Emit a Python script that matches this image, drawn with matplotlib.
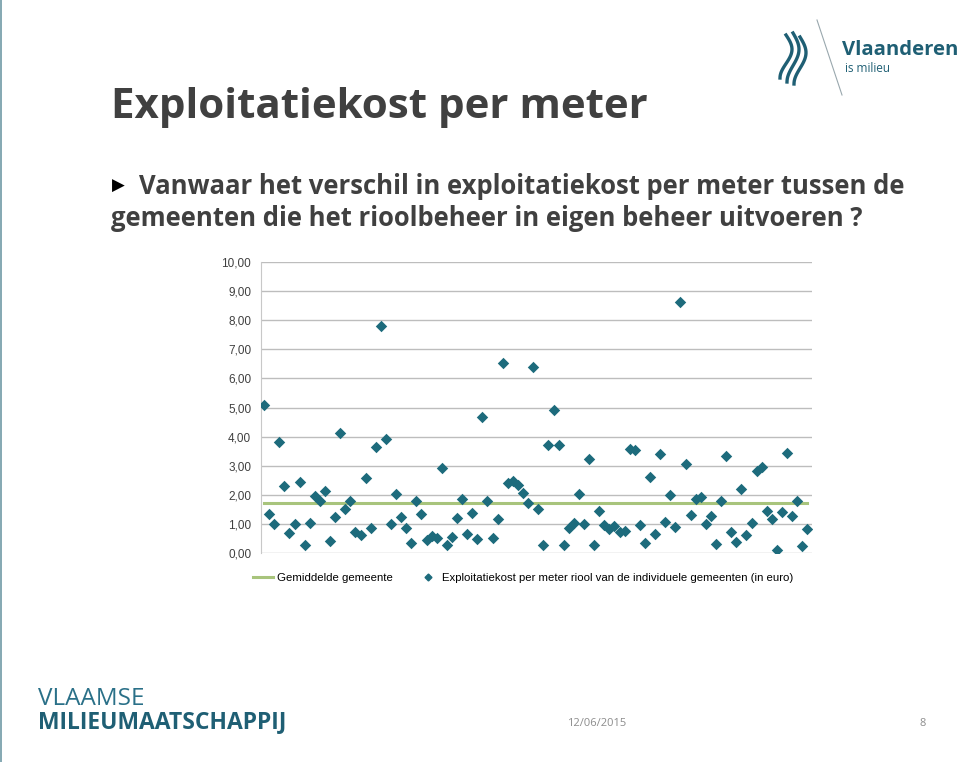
import matplotlib
matplotlib.use('Agg')
import matplotlib.pyplot as plt
from matplotlib.lines import Line2D
import numpy as np

# Exploitatiekost per meter riool per gemeente (euro)
kost = [5.10, 1.34, 1.00, 3.80, 2.30, 0.69, 1.00, 2.44, 0.27, 1.04,
        1.96, 1.80, 2.13, 0.41, 1.24, 4.12, 1.51, 1.80, 0.72, 0.62,
        2.58, 0.86, 3.64, 7.81, 3.92, 1.00, 2.03, 1.25, 0.86, 0.34,
        1.78, 1.34, 0.45, 0.60, 0.50, 2.92, 0.29, 0.56, 1.20, 1.85,
        0.65, 1.37, 0.48, 4.67, 1.78, 0.53, 1.18, 6.53, 2.40, 2.48,
        2.33, 2.06, 1.72, 6.39, 1.52, 0.27, 3.71, 4.91, 3.71, 0.27,
        0.86, 1.03, 2.03, 1.00, 3.23, 0.27, 1.45, 0.96, 0.82, 0.93,
        0.72, 0.76, 3.57, 3.54, 0.96, 0.34, 2.61, 0.65, 3.41, 1.06,
        1.99, 0.89, 8.62, 3.07, 1.30, 1.85, 1.92, 1.00, 1.28, 0.32,
        1.78, 3.33, 0.72, 0.37, 2.21, 0.62, 1.03, 2.82, 2.97, 1.45,
        1.17, 0.10, 1.42, 3.44, 1.28, 1.80, 0.25, 0.82]
gemiddelde = 1.72
yticks = np.arange(0, 11, 1)
yticklabels = ['%d,00' % v for v in yticks]

W, H = 960, 762
fig = plt.figure(figsize=(W / 100, H / 100), dpi=100)
fig.patch.set_facecolor('white')

def px(x, y):
    return x / W, 1 - y / H

grijs = '#404040'
teal = '#1d6b7c'
logo = '#1f5f74'
fnt = 'Open Sans'

# titel + vraag
fig.text(*px(111, 107), 'Exploitatiekost per meter', fontsize=30.3, fontweight='bold',
         color=grijs, family=fnt, va='center', ha='left')
fig.text(*px(118, 186), '\u25B6', fontsize=12, color='black', family='DejaVu Sans',
         va='center', ha='center')
fig.text(*px(139, 186), 'Vanwaar het verschil in exploitatiekost per meter tussen de',
         fontsize=18.45, fontweight='bold', color=grijs, family=fnt, va='center', ha='left')
fig.text(*px(111, 219), 'gemeenten die het rioolbeheer in eigen beheer uitvoeren ?',
         fontsize=18.45, fontweight='bold', color=grijs, family=fnt, va='center', ha='left')

# grafiek
ax = fig.add_axes([261 / W, 1 - 553 / H, (812 - 261) / W, (553 - 262) / H])
x = np.arange(len(kost))
ax.plot([x[0], x[-1]], [gemiddelde, gemiddelde], color='#a8c47c', lw=2.2, zorder=2)
ax.scatter(x, kost, marker='D', s=34, color=teal, zorder=3, linewidths=0)
ax.set_ylim(0, 10)
ax.set_xlim(-0.6, 107.9)
ax.set_yticks(yticks)
ax.set_yticklabels(yticklabels, fontsize=8.5, color='#404040', family='Liberation Sans')
ax.set_xticks([])
ax.yaxis.grid(True, color='#bdbdbd', lw=1)
ax.set_axisbelow(True)
for s in ['top', 'right', 'bottom']:
    ax.spines[s].set_visible(False)
ax.spines['left'].set_color('#c8c8c8')
ax.tick_params(axis='y', length=0, pad=7)

# legenda
handles = [Line2D([], [], color='#a8c47c', lw=2.2),
           Line2D([], [], marker='D', ls='', color=teal, markersize=3.5)]
labels = ['Gemiddelde gemeente',
          'Exploitatiekost per meter riool van de individuele gemeenten (in euro)']
fig.legend(handles, labels, loc='center', bbox_to_anchor=px(523, 578), ncol=2,
           frameon=False, prop={'family': 'Liberation Sans', 'size': 8.2},
           handlelength=1.8, handletextpad=0.3, columnspacing=2.2)

# logo's en voettekst
fig.text(*px(38, 699), 'VLAAMSE', fontsize=17.5, color='#2a7088', family=fnt,
         va='center', ha='left')
fig.text(*px(38, 722), 'MILIEUMAATSCHAPPIJ', fontsize=16.5, fontweight='bold',
         color=logo, family=fnt, va='center', ha='left')
fig.text(*px(597, 724), '12/06/2015', fontsize=8, color='#8c8c8c', family=fnt,
         va='center', ha='center')
fig.text(*px(923, 724), '8', fontsize=8, color='#8c8c8c', family=fnt,
         va='center', ha='center')
fig.text(*px(842, 50), 'Vlaanderen', fontsize=14.6, fontweight='bold', color=logo,
         family=fnt, va='center', ha='left')
fig.text(*px(845, 69), 'is milieu', fontsize=8.5, color=logo,
         family=fnt, va='center', ha='left')
fig.add_artist(Line2D([817 / W, 842 / W], [1 - 20 / H, 1 - 95 / H], color='#9aa8ae', lw=0.8))
# gestileerde leeuw
t = np.linspace(0, 1, 30)
for dx, top, bot in [(0, 35, 78), (7, 33, 82), (14, 37, 84)]:
    xs = 786 + dx + 6 * np.sin(t * np.pi * 1.5)
    ys = top + (bot - top) * t
    fig.add_artist(Line2D(xs / W, 1 - ys / H, color=logo, lw=2.4))
fig.add_artist(Line2D([0.5 / W, 0.5 / W], [0, 1], color='#6f9aa6', lw=1.2))

fig.savefig('out.png', dpi=100)
